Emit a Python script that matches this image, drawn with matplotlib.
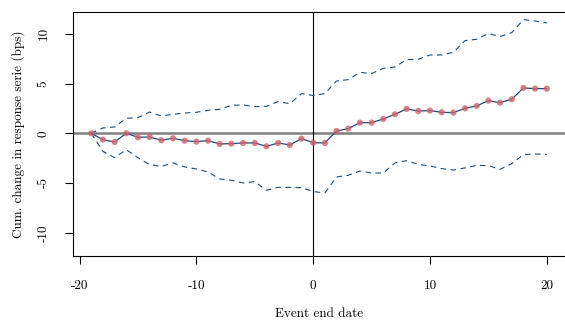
import matplotlib
matplotlib.use("Agg")
import matplotlib.pyplot as plt
import numpy as np

days = list(range(-19, 21))
estimate = [0, -0.64, -0.87, 0, -0.40, -0.37, -0.70, -0.50, -0.74, -0.84,
            -0.74, -1.07, -1.04, -0.97, -0.97, -1.31, -0.97, -1.17, -0.54, -0.94,
            -0.97, 0.23, 0.47, 1.07, 1.07, 1.44, 1.91, 2.45, 2.24, 2.28,
            2.11, 2.08, 2.51, 2.75, 3.28, 3.08, 3.42, 4.56, 4.49, 4.49]
upper = [0, 0.54, 0.64, 1.51, 1.57, 2.14, 1.74, 1.91, 2.04, 2.11,
         2.31, 2.41, 2.81, 2.85, 2.68, 2.71, 3.18, 2.98, 3.99, 3.80,
         3.99, 5.26, 5.39, 6.13, 6.00, 6.53, 6.67, 7.40, 7.44, 7.87,
         7.87, 8.14, 9.31, 9.45, 10.02, 9.72, 10.12, 11.42, 11.29, 11.09]
lower = [0, -1.81, -2.45, -1.64, -2.45, -3.15, -3.32, -2.98, -3.38, -3.58,
         -3.89, -4.59, -4.72, -4.99, -4.86, -5.73, -5.43, -5.43, -5.46, -5.85,
         -6.00, -4.39, -4.22, -3.79, -3.99, -3.99, -2.98, -2.75, -3.12, -3.28,
         -3.55, -3.69, -3.48, -3.22, -3.25, -3.62, -3.05, -2.14, -2.08, -2.11]
xticks = [-20, -10, 0, 10, 20]
yticks = [-10, -5, 0, 5, 10]

plt.rcParams['font.family'] = ['cmr10', 'DejaVu Serif']
plt.rcParams['axes.unicode_minus'] = False

fig = plt.figure(figsize=(5.65, 3.22), dpi=100)
ax = fig.add_axes([73/565, 66/322, 1 - 73/565, (256-12)/322])

line_col = '#1b4f7a'
ax.axhline(0, color='#808080', lw=1.8, zorder=1)
ax.axvline(0, color='black', lw=0.8, zorder=1)
ax.plot(days, upper, color=line_col, lw=0.8, ls=(0, (5, 4)), zorder=2)
ax.plot(days, lower, color=line_col, lw=0.8, ls=(0, (5, 4)), zorder=2)
ax.plot(days, estimate, color=line_col, lw=0.9, zorder=3)
ax.scatter(days, estimate, s=20, color='#d4606f', alpha=0.8, edgecolors='none', zorder=4)

ax.set_xlim(-20.56, 21.56)
ax.set_ylim(-12.33, 12.19)
ax.set_xticks(xticks)
ax.set_xticklabels([str(v) for v in xticks])
ax.set_yticks(yticks)
ax.set_yticklabels([str(v) for v in yticks], rotation=90, va='center')
ax.tick_params(axis='both', direction='out', length=6, width=0.8, labelsize=9.5, color='black')
ax.tick_params(axis='x', pad=11)
ax.tick_params(axis='y', pad=11)
ax.spines['right'].set_visible(False)
for s in ['left', 'top', 'bottom']:
    ax.spines[s].set_linewidth(0.8)

ax.set_xlabel('Event end date', fontsize=9.5, labelpad=12)
ax.set_ylabel('Cum. change in response serie (bps)', fontsize=9.5, labelpad=9)

fig.savefig('out.png', dpi=100)
